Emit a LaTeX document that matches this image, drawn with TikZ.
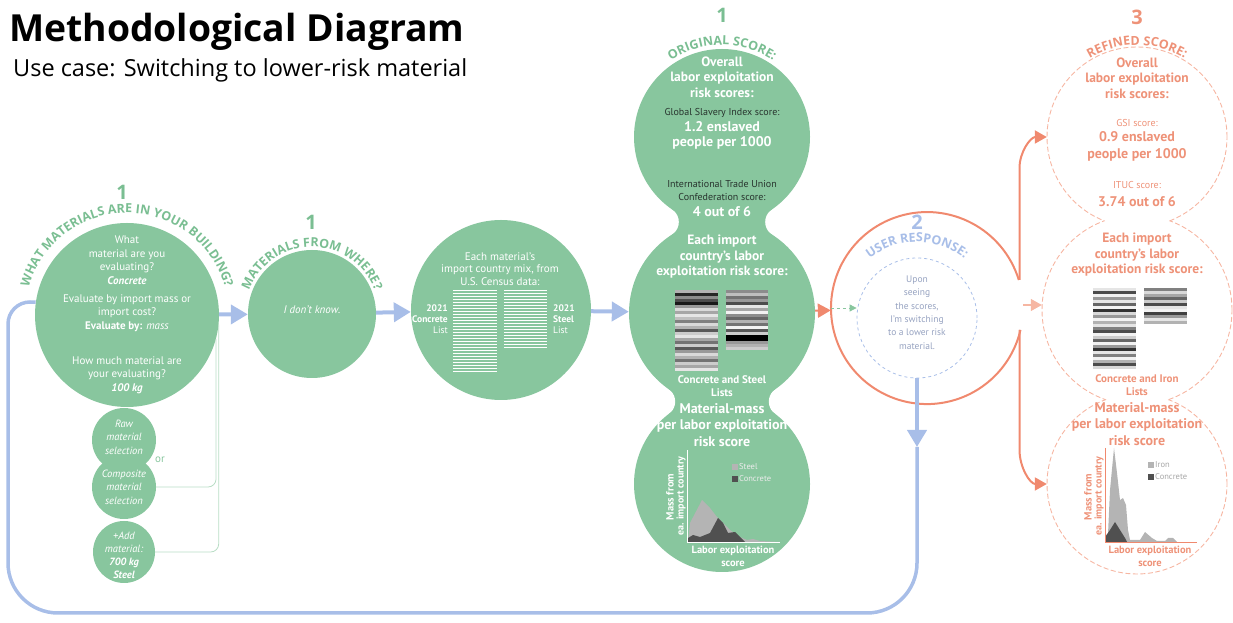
\documentclass[tikz,border=0pt]{standalone}
\usepackage{fontspec}
\setmainfont{PT Sans}
\newfontfamily\headfont{Open Sans}
\usetikzlibrary{arrows.meta,decorations.text}

\definecolor{gfill}{RGB}{136,198,158}
\definecolor{gtext}{RGB}{122,190,146}
\definecolor{bline}{RGB}{168,190,232}
\definecolor{oline}{RGB}{240,137,110}
\definecolor{otext}{RGB}{238,146,120}
\definecolor{olight}{RGB}{246,182,162}
\definecolor{dtext}{RGB}{40,52,46}
\definecolor{btext}{RGB}{150,162,192}
\definecolor{lgray}{RGB}{180,180,180}
\definecolor{dgray}{RGB}{80,80,80}

\newcommand\fsz[2]{\fontsize{#1}{#2}\selectfont}
% curved heading along an arc: cx, cy, radius, start, end, colour, text
\newcommand\arclabel[7]{%
  \path[decorate,decoration={text along path,text align=center,
    text={|\headfont\bfseries\fsz{12.5}{14}\color{#6}|#7}}]
    (#1,#2) ++(#4:#3) arc[start angle=#4,end angle=#5,radius=#3];}
% grey-scale score stripes: x0, x1, top, step, list of black percentages
\newcommand\stripes[5]{%
  \foreach \g [count=\i] in {#5}{\fill[black!\g] (#1,{#3-(\i-1)*#4}) rectangle (#2,{#3-\i*#4});}}

\begin{document}
\begin{tikzpicture}[x=1pt,y=1pt,
  gcirc/.style={circle,fill=gfill,inner sep=0pt},
  anchorcirc/.style={circle,inner sep=0pt},
  wtxt/.style={text=white,align=center,inner sep=0pt,font=\fsz{11}{13.5}},
  whead/.style={text=white,align=center,inner sep=0pt,font=\bfseries\fsz{13.5}{15.5}},
  otxt/.style={text=otext,align=center,inner sep=0pt,font=\fsz{10}{13}},
  ohead/.style={text=otext,align=center,inner sep=0pt,font=\bfseries\fsz{13.5}{15.5}},
  num/.style={inner sep=0pt,font=\headfont\bfseries\fsz{20}{22}},
  barrow/.style={draw=bline,line width=4pt,-{Triangle[length=17pt,width=19pt]}},
  bpath/.style={draw=bline,line width=3.5pt},
  gconn/.style={draw=gfill!60,line width=0.8pt,rounded corners=8pt},
  opath/.style={draw=oline,line width=2pt},
  rdash/.style={draw=olight,line width=0.9pt,dash pattern=on 5pt off 2.5pt},
]
\useasboundingbox (0,0) rectangle (1233,623);

% ---------- titles ----------
\node[anchor=base west,inner sep=0pt,font=\headfont\bfseries\fsz{37.3}{40}] (title) at (9,581) {Methodological Diagram};
\node[anchor=base west,inner sep=0pt,font=\headfont\fsz{23.5}{26}] (subtitle) at (13,546) {Use case: Switching to lower-risk material};

% ---------- step 1: inputs ----------
\node[gcirc,minimum size=184pt] (A) at (127,308) {};
\node[gcirc,minimum size=64pt] (Raw) at (124,183) {};
\node[gcirc,minimum size=64pt] (Comp) at (124,136) {};
\node[gcirc,minimum size=62pt] (Add) at (124,71) {};
\draw[gconn] (A.-15) -- (A.-15 |- Comp.east) -- (Comp.east);
\draw[gconn] (A.-6) -- (A.-6 |- Add.east) -- (Add.east);

\node[num,text=gtext] (n1a) at (122,431) {1};
\arclabel{127}{308}{102}{178}{2}{gtext}{WHAT MATERIALS ARE IN YOUR BUILDING?}
\node[wtxt] (qa) at (127,363) {What\\material are you\\evaluating?\\\textbf{\textit{Concrete}}};
\node[wtxt] (qb) at (127,310) {Evaluate by import mass or\\import cost?\\\textbf{Evaluate by:} \textit{mass}};
\node[wtxt] (qc) at (127,248) {How much material are\\your evaluating?\\\textbf{\textit{100 kg}}};
\node[wtxt,font=\itshape\fsz{10.5}{13.5}] (traw) at (124,186) {Raw\\material\\selection};
\node[wtxt,font=\itshape\fsz{10.5}{13.5}] (tcomp) at (124,136) {Composite\\material\\selection};
\node[wtxt,font=\itshape\fsz{10.5}{13}] (tadd) at (124,68) {+Add\\material:\\\textbf{700 kg}\\\textbf{Steel}};
\node[inner sep=0pt,text=gfill,font=\fsz{11}{13}] (or) at (160,163) {or};

\node[gcirc,minimum size=128pt] (B) at (312,309) {};
\node[num,text=gtext] (n1b) at (311,401) {1};
\arclabel{312}{309}{67}{175}{5}{gtext}{MATERIALS FROM WHERE?}
\node[wtxt,font=\itshape\fsz{11}{13}] (tb) at (312,313) {I don't know.};

\node[gcirc,minimum size=180pt] (C) at (501,313) {};
\node[wtxt,font=\fsz{11}{12.5}] (tc) at (500,354) {Each material's\\import country mix, from\\U.S. Census data:};
\foreach \k in {0,...,27} \draw[white,line width=0.9pt] (453,{333-3*\k}) -- (497,{333-3*\k});
\foreach \k in {0,...,19} \draw[white,line width=0.9pt] (504,{333-3*\k}) -- (547,{333-3*\k});
\node[wtxt,align=right,anchor=east,font=\fsz{9.5}{11}] (lc) at (448,304) {\textbf{2021}\\\textbf{Concrete}\\List};
\node[wtxt,align=left,anchor=west,font=\fsz{9.5}{11}] (ls) at (553,304) {\textbf{2021}\\\textbf{Steel}\\List};

% ---------- original score column: three merged circles ----------
\fill[gfill] (722,486) -- (780.2,401) -- (722,310) -- (663.8,401) -- cycle;
\fill[gfill] (722,310) -- (783.8,221.4) -- (722,139) -- (660.2,221.4) -- cycle;
\fill[white] (780.2,401) circle[radius=15] (663.8,401) circle[radius=15]
             (783.8,221.4) circle[radius=15] (660.2,221.4) circle[radius=15];
\node[gcirc,minimum size=176pt] (GT) at (722,486) {};
\node[gcirc,minimum size=186pt] (GM) at (722,310) {};
\node[gcirc,minimum size=176pt] (GB) at (722,139) {};

\node[num,text=gtext] (n1g) at (722,608) {1};
\arclabel{722}{486}{92}{150}{30}{gtext}{ORIGINAL SCORE:}
\node[whead] (gt1) at (722,546) {Overall\\labor exploitation\\risk scores:};
\node[wtxt,text=dtext,font=\fsz{10}{13}] (gt2) at (722,510) {Global Slavery Index score:};
\node[whead,font=\bfseries\fsz{14}{15.5}] (gt3) at (722,487.5) {1.2 enslaved\\people per 1000};
\node[wtxt,text=dtext,font=\fsz{10}{13}] (gt4) at (722,432.5) {International Trade Union\\Confederation score:};
\node[whead,font=\bfseries\fsz{14}{15.5}] (gt5) at (722,411) {4 out of 6};

\node[whead] (gm1) at (722,366) {Each import\\country's labor\\exploitation risk score:};
\stripes{675}{718}{333}{3}{30,85,45,70,90,40,15,35,10,25,50,15,30,65,20,10,35,55,20,65,40,15,30,55,20,35,10}
\stripes{726}{768}{333}{3}{45,25,55,40,70,10,35,5,45,60,30,55,5,65,20,100,100,40,30,20}
\node[whead,font=\bfseries\fsz{11}{13}] (gm2) at (722,236.5) {Concrete and Steel\\Lists};

\node[whead,font=\bfseries\fsz{14}{16.5}] (gb1) at (722,198) {Material-mass\\per labor exploitation\\risk score};
\begin{scope}[shift={(687,81)}]
  \fill[lgray] (1,0) -- (3,19) -- (15,42) -- (23,34) -- (30,25) -- (33,22) -- (43,12) -- (53,5) -- (60,2) -- (66,3) -- (73,1) -- (93,0) -- cycle;
  \fill[dgray] (1,0) -- (1,4) -- (6,7) -- (13,5) -- (23,9) -- (31,24) -- (36,19) -- (41,9) -- (48,10) -- (53,5) -- (58,0) -- cycle;
  \draw[white,line width=0.8pt] (0,92) -- (0,0) -- (93,0);
  \fill[lgray] (45,72) rectangle (51,78);
  \fill[dgray] (45,60) rectangle (51,66);
  \node[anchor=west,inner sep=0pt,text=white!85!gray,font=\fsz{8.5}{10}] (lgs) at (52,75) {Steel};
  \node[anchor=west,inner sep=0pt,text=white!85!gray,font=\fsz{8.5}{10}] (lgc) at (52,63) {Concrete};
  \node[rotate=90,inner sep=0pt,text=white,font=\bfseries\fsz{10.5}{12}] (gy1) at (-17,45) {Mass from};
  \node[rotate=90,inner sep=0pt,text=white,font=\bfseries\fsz{10}{12}] (gy2) at (-6,46) {ea. import country};
  \node[wtxt,font=\bfseries\fsz{10.5}{13}] (gx) at (46,-14.5) {Labor exploitation\\score};
\end{scope}

% ---------- user response ----------
\node[anchorcirc,minimum size=192pt] (O) at (927,315) {};
\draw[opath] (1018.8,343) arc[start angle=17,end angle=346.8,radius=96];
\node[circle,draw=bline,line width=0.8pt,dashed,minimum size=120pt,inner sep=0pt] (I) at (917,305) {};
\node[num,text=bline] (n2) at (917,401) {2};
\arclabel{917}{305}{76}{150}{30}{bline}{USER RESPONSE:}
\node[wtxt,text=btext,font=\fsz{9.5}{13.4}] (tu) at (917,310.5) {Upon\\seeing\\the scores,\\I'm switching\\to a lower risk\\material.};

\draw[draw=oline,line width=2pt,-{Triangle[length=13pt,width=14pt]}] (GM) -- (O);
\draw[draw=gfill,line width=0.8pt,dashed,-{Triangle[length=7pt,width=7pt]}] (O.west) -- (O.west -| I.west);

% ---------- refined score column ----------
\node[anchorcirc,minimum size=180pt] (RT) at (1137,486) {};
\node[anchorcirc,minimum size=190pt] (RM) at (1137,313) {};
\node[anchorcirc,minimum size=180pt] (RB) at (1137,139) {};
\begin{scope}[even odd rule]
  \clip (0,0) rectangle (1233,623) (1137,313) circle[radius=95];
  \draw[rdash] (1137,486) circle[radius=90];
  \draw[rdash] (1137,139) circle[radius=90];
\end{scope}
\begin{scope}[even odd rule]
  \clip (0,0) rectangle (1233,623) (1137,486) circle[radius=90];
  \clip (0,0) rectangle (1233,623) (1137,139) circle[radius=90];
  \draw[rdash] (1137,313) circle[radius=95];
\end{scope}

\draw[opath,-{Triangle[length=12pt,width=13pt]}] (1019.5,343) -- (1019.5,455) to[out=90,in=180] (RT.west);
\draw[opath,-{Triangle[length=12pt,width=13pt]}] (1019.5,293) -- (1019.5,173) to[out=-90,in=180] (RB.west);
\coordinate (mo) at (1023,318);
\draw[draw=olight,line width=1.2pt,-{Triangle[length=11pt,width=12pt]}] (mo) -- (mo -| RM.west);

\node[num,text=otext] (n3) at (1137,606) {3};
\arclabel{1137}{486}{92}{150}{30}{otext}{REFINED SCORE:}
\node[ohead] (rt1) at (1137,545) {Overall\\labor exploitation\\risk scores:};
\node[otxt] (rt2) at (1137,500) {GSI score:};
\node[ohead,font=\bfseries\fsz{14}{16.5}] (rt3) at (1137,476.5) {0.9 enslaved\\people per 1000};
\node[otxt] (rt4) at (1137,438) {ITUC score:};
\node[ohead,font=\bfseries\fsz{14}{16}] (rt5) at (1137,421) {3.74 out of 6};

\node[ohead] (rm1) at (1137,368) {Each import\\country's labor\\exploitation risk score:};
\stripes{1093}{1136}{335}{3}{10,70,5,40,10,60,5,80,15,40,5,30,10,50,70,5,20,60,5,40,80,10,50,5,30,70,15}
\stripes{1144}{1187}{335}{3}{50,15,35,60,20,70,10,5,75,40,10,30}
\node[ohead,font=\bfseries\fsz{11}{13}] (rm2) at (1137,237.5) {Concrete and Iron\\Lists};

\node[ohead,font=\bfseries\fsz{14}{16.5}] (rb1) at (1137,199) {Material-mass\\per labor exploitation\\risk score};
\begin{scope}[shift={(1105,81)}]
  \fill[lgray] (0,0) -- (3,8) -- (5,52) -- (9,94) -- (12,69) -- (15,42) -- (18,44) -- (21,37) -- (23,12) -- (25,2) -- (35,2) -- (40,10) -- (47,4) -- (52,1) -- (60,1) -- (63,4) -- (68,4) -- (72,0) -- cycle;
  \fill[dgray] (0,0) -- (0,5) -- (5,12) -- (10,20) -- (15,12) -- (20,4) -- (22,0) -- cycle;
  \draw[oline,line width=0.8pt] (0,94) -- (0,0) -- (92,0);
  \fill[lgray] (43,74) rectangle (49,80);
  \fill[dgray] (43,62) rectangle (49,68);
  \node[anchor=west,inner sep=0pt,text=gray!70,font=\fsz{8.5}{10}] (lri) at (50,77) {Iron};
  \node[anchor=west,inner sep=0pt,text=gray!70,font=\fsz{8.5}{10}] (lrc) at (50,65) {Concrete};
  \node[rotate=90,inner sep=0pt,text=otext,font=\bfseries\fsz{10.5}{12}] (ry1) at (-17,45) {Mass from};
  \node[rotate=90,inner sep=0pt,text=otext,font=\bfseries\fsz{10}{12}] (ry2) at (-6,46) {ea. import country};
  \node[ohead,font=\bfseries\fsz{10.5}{13}] (rx) at (45,-14.5) {Labor exploitation\\score};
\end{scope}

% ---------- blue flow ----------
\draw[barrow] (A) -- (B);
\draw[barrow] (B) -- (C);
\draw[barrow] (C) -- (GM);
\coordinate (bh) at (917,176);
\draw[barrow] (I.south) -- (bh);
\draw[bpath] (bh) -- (917,60) arc[start angle=0,end angle=-90,radius=50] -- (58,10)
  arc[start angle=270,end angle=180,radius=50] -- (8,299)
  arc[start angle=180,end angle=90,radius=22] -- (A.172);
\end{tikzpicture}
\end{document}
